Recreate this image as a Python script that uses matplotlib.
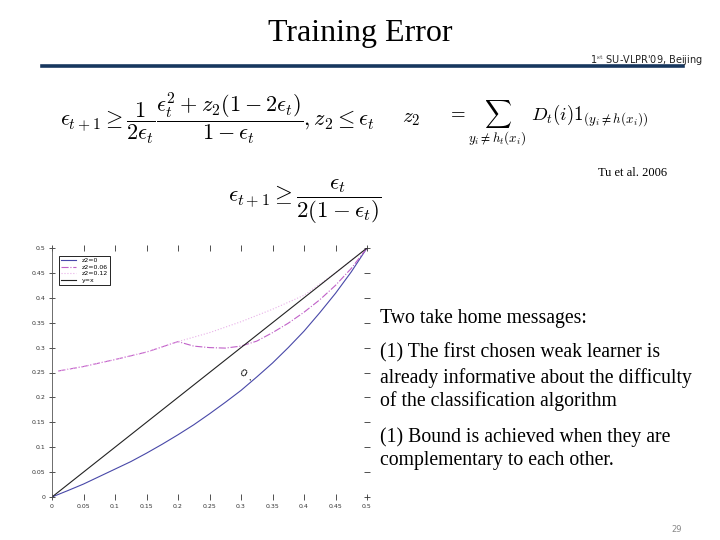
import matplotlib
matplotlib.use("Agg")
import matplotlib.pyplot as plt
from matplotlib.lines import Line2D

plt.rcParams["mathtext.fontset"] = "cm"

# curve values (x = eps_t, y = bound on eps_t+1)
eps = [0, 0.025, 0.05, 0.075, 0.1, 0.125, 0.15, 0.175, 0.2, 0.225, 0.25,
       0.275, 0.3, 0.325, 0.35, 0.375, 0.4, 0.425, 0.45, 0.475, 0.5]
bound_z0 = [0, 0.0128, 0.026, 0.041, 0.056, 0.071, 0.088, 0.106, 0.125, 0.145, 0.167,
            0.19, 0.214, 0.241, 0.269, 0.3, 0.333, 0.37, 0.409, 0.452, 0.5]

eps_z006 = [0.01, 0.05, 0.1, 0.15, 0.2, 0.225, 0.25, 0.275, 0.3, 0.325, 0.35,
            0.375, 0.4, 0.425, 0.45, 0.475, 0.5]
bound_z006 = [0.253, 0.262, 0.276, 0.291, 0.312, 0.303, 0.300, 0.299, 0.303, 0.313, 0.330,
              0.349, 0.371, 0.396, 0.425, 0.459, 0.5]

eps_z012 = [0.01, 0.05, 0.1, 0.15, 0.2, 0.25, 0.3, 0.35, 0.4, 0.43, 0.45, 0.5]
bound_z012 = [0.253, 0.262, 0.276, 0.291, 0.312, 0.33, 0.352, 0.377, 0.405, 0.432, 0.45, 0.5]

diag = [0, 0.5]

xticks = [0, 0.05, 0.1, 0.15, 0.2, 0.25, 0.3, 0.35, 0.4, 0.45, 0.5]
yticks = [0, 0.05, 0.1, 0.15, 0.2, 0.25, 0.3, 0.35, 0.4, 0.45, 0.5]

messages = [
    "Two take home messages:",
    "(1) The first chosen weak learner is",
    "already informative about the difficulty",
    "of the classification algorithm",
    "(1) Bound is achieved when they are",
    "complementary to each other.",
]
message_y = [318, 353, 378, 401, 437, 461]

W, H = 720, 540


def px(x, y):
    return x / W, 1 - y / H


fig = plt.figure(figsize=(7.2, 5.4), dpi=100)

# slide header
fig.text(*px(360, 33), "Training Error", ha="center", va="center",
         family="Liberation Serif", fontsize=23)
fig.add_artist(Line2D([42 / W, 683 / W], [1 - 66 / H] * 2, color="#17375e", lw=2.6))
fig.text(*px(590, 60), r"1$^{\mathrm{st}}$ SU-VLPR'09, Beijing", ha="left", va="center",
         family="DejaVu Sans", fontsize=7, color="#222222")

# equations
fig.text(*px(60, 118),
         r"$\epsilon_{t+1}\geq\dfrac{1}{2\epsilon_t}\dfrac{\epsilon_t^2+z_2(1-2\epsilon_t)}{1-\epsilon_t},z_2\leq\epsilon_t$",
         ha="left", va="center", fontsize=16)
fig.text(*px(402, 118), r"$z_2$", ha="left", va="center", fontsize=15)
fig.text(*px(447, 123),
         r"$=\sum_{y_i\neq h_t(x_i)}\ D_t(i)\mathbf{1}_{(y_i\neq h(x_i))}$",
         ha="left", va="center", fontsize=13.5)
fig.text(*px(598, 173), "Tu et al. 2006", ha="left", va="center",
         family="Liberation Serif", fontsize=9)
fig.text(*px(228, 202), r"$\epsilon_{t+1}\geq\dfrac{\epsilon_t}{2(1-\epsilon_t)}$",
         ha="left", va="center", fontsize=16.5)

# right-hand text
for line, y in zip(messages, message_y):
    fig.text(*px(380, y), line, ha="left", va="center",
             family="Liberation Serif", fontsize=14.2)

fig.text(*px(677, 530), "29", ha="center", va="center", fontsize=6, color="#888888")

# the plot
ax = fig.add_axes([52 / W, 1 - 497 / H, 315 / W, 249 / H])
ax.plot(eps, bound_z0, color="#4848a8", lw=0.8, label="z2=0")
ax.plot(eps_z006, bound_z006, color="#c060c8", lw=0.8, ls="-.", label="z2=0.06")
ax.plot(eps_z012, bound_z012, color="#e8b0e8", lw=0.8, ls=":", label="z2=0.12")
ax.plot(diag, diag, color="#222222", lw=0.8, label="y=x")

ax.annotate("O", xy=(0.315, 0.235), xytext=(0.302, 0.248), fontsize=6,
            ha="center", va="center", rotation=-30,
            arrowprops=dict(arrowstyle="-", lw=0.8, color="black", shrinkA=2, shrinkB=0))

ax.set_xlim(0, 0.5)
ax.set_ylim(0, 0.5)
ax.set_xticks(xticks)
ax.set_yticks(yticks)
ax.set_xticklabels([f"{v:g}" for v in xticks])
ax.set_yticklabels([f"{v:g}" for v in yticks])
for side in ["top", "right", "bottom"]:
    ax.spines[side].set_visible(False)
ax.spines["left"].set_linewidth(0.6)
ax.spines["left"].set_color("#555555")
ax.tick_params(which="both", top=True, right=True, direction="inout", length=4,
               width=0.6, labelsize=4.5, pad=3, colors="#333333")

leg = ax.legend(loc="upper left", bbox_to_anchor=(0.022, 0.968), borderaxespad=0,
                fontsize=4.5, fancybox=False, edgecolor="black", framealpha=1,
                handlelength=2.5, borderpad=0.3, labelspacing=0.2)
leg.get_frame().set_linewidth(0.6)

fig.savefig("out.png", dpi=100)
